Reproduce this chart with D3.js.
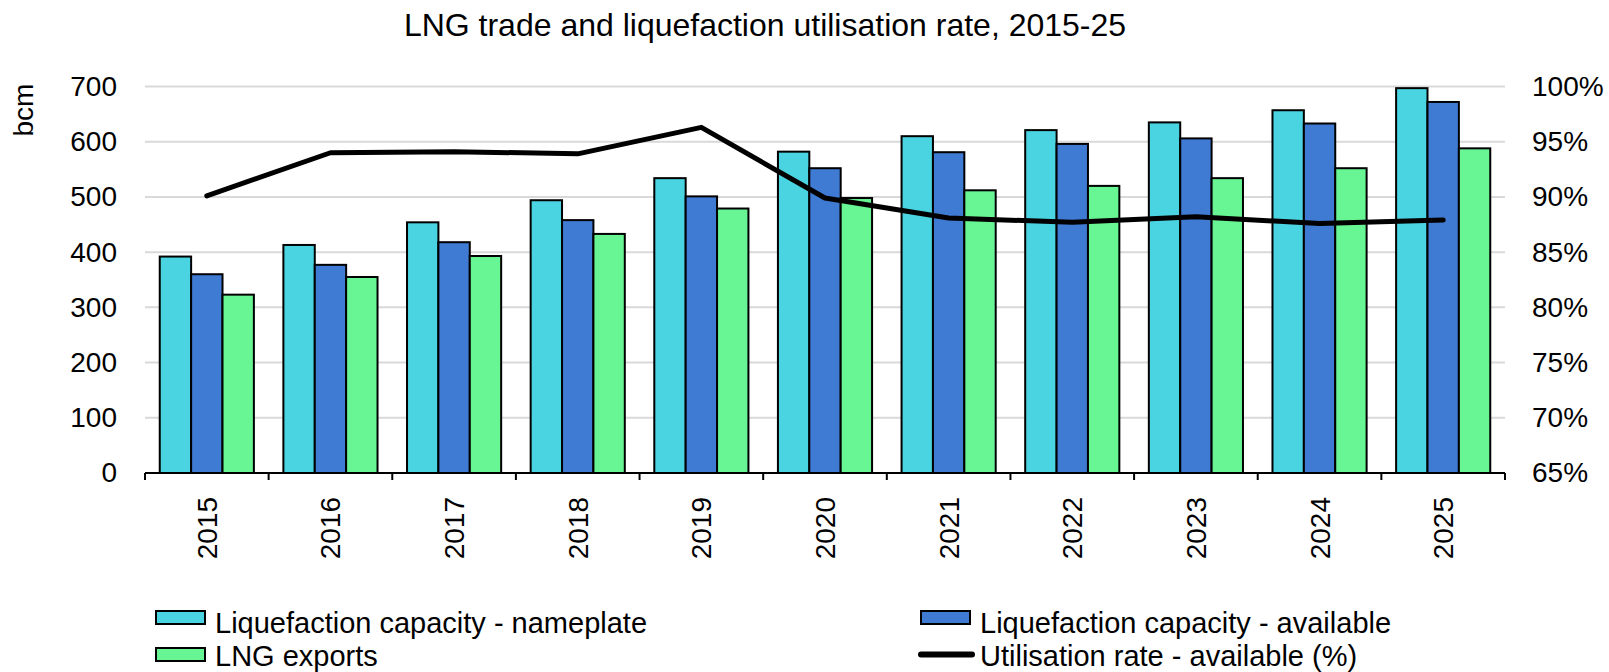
<!DOCTYPE html>
<html>
<head>
<meta charset="utf-8">
<script src="https://cdnjs.cloudflare.com/ajax/libs/d3/7.8.5/d3.min.js"></script>
<style>
  html, body { margin: 0; padding: 0; background: #fff; }
  svg { display: block; font-family: "Liberation Sans", Arial, sans-serif; }
</style>
</head>
<body>
<svg id="chart" width="1609" height="672"></svg>
<script>
const years = ["2015","2016","2017","2018","2019","2020","2021","2022","2023","2024","2025"];
const nameplate = [392, 413, 454, 494, 534, 582, 610, 621, 635, 657, 697];
const available = [360, 377, 418, 458, 501, 552, 581, 596, 606, 633, 672];
const exportsLNG = [323, 355, 393, 433, 479, 498, 512, 520, 534, 552, 588];
const utilisation = [90.1, 94.0, 94.1, 93.9, 96.3, 89.9, 88.1, 87.7, 88.2, 87.6, 87.9];
const leftTicks = [0, 100, 200, 300, 400, 500, 600, 700];
const rightTicks = [65, 70, 75, 80, 85, 90, 95, 100];
const seriesNames = ["Liquefaction capacity - nameplate", "Liquefaction capacity - available", "LNG exports"];
const lineName = "Utilisation rate - available (%)";
const colors = ["#4AD3E0", "#3F7AD3", "#68F593"];
const titleText = "LNG trade and liquefaction utilisation rate, 2015-25";
const yLabel = "bcm";

const barSeries = [nameplate, available, exportsLNG];

const svg = d3.select("#chart");
const L = 145, R = 1505, T = 86.5, B = 473;

const x0 = d3.scaleBand().domain(years).range([L, R]).paddingInner(0).paddingOuter(0);
const x1 = d3.scaleBand().domain(d3.range(3)).range([0, x0.bandwidth()]).paddingInner(0).paddingOuter(0.47);
const y = d3.scaleLinear().domain([0, 700]).range([B, T]);
const y2 = d3.scaleLinear().domain([65, 100]).range([B, T]);

// title
svg.append("text").attr("x", 765).attr("y", 36).attr("text-anchor", "middle")
  .attr("font-size", 32).attr("fill", "#000").text(titleText);

// gridlines
svg.append("g").selectAll("line").data(leftTicks.filter(d => d > 0)).join("line")
  .attr("x1", L).attr("x2", R).attr("y1", d => y(d)).attr("y2", d => y(d))
  .attr("stroke", "#d9d9d9").attr("stroke-width", 2);

// left axis labels
const gl = svg.append("g").attr("transform", `translate(${L},0)`)
  .call(d3.axisLeft(y).tickValues(leftTicks).tickSize(0).tickPadding(28));
gl.select(".domain").remove();
gl.selectAll("text").attr("font-size", 28).attr("font-family", "Liberation Sans, Arial, sans-serif").attr("fill", "#000");

// right axis labels
const gr = svg.append("g").attr("transform", `translate(${R},0)`)
  .call(d3.axisRight(y2).tickValues(rightTicks).tickSize(0).tickPadding(27).tickFormat(d => d + "%"));
gr.select(".domain").remove();
gr.selectAll("text").attr("font-size", 28).attr("font-family", "Liberation Sans, Arial, sans-serif").attr("fill", "#000");

// y label
svg.append("text").attr("transform", "translate(33,110) rotate(-90)").attr("text-anchor", "middle")
  .attr("font-size", 28).attr("fill", "#000").text(yLabel);

// bars
const groups = svg.append("g").selectAll("g").data(years).join("g")
  .attr("transform", d => `translate(${x0(d)},0)`);
groups.selectAll("rect").data((d, i) => barSeries.map((s, k) => ({k, v: s[i]}))).join("rect")
  .attr("x", d => x1(d.k)).attr("width", x1.bandwidth())
  .attr("y", d => y(d.v)).attr("height", d => y(0) - y(d.v))
  .attr("fill", d => colors[d.k]).attr("stroke", "#000").attr("stroke-width", 2);

// bottom axis
const gb = svg.append("g").attr("transform", `translate(0,${B})`);
gb.append("line").attr("x1", L).attr("x2", R).attr("y1", 0).attr("y2", 0).attr("stroke", "#000").attr("stroke-width", 2);
const bounds = years.map(d => x0(d)).concat([R]);
gb.selectAll("line.tick").data(bounds).join("line").attr("class", "tick")
  .attr("x1", d => d).attr("x2", d => d).attr("y1", 0).attr("y2", 7)
  .attr("stroke", "#000").attr("stroke-width", 2);
svg.append("g").selectAll("text").data(years).join("text")
  .attr("transform", d => `translate(${x0(d) + x0.bandwidth() / 2 + 10},497) rotate(-90)`)
  .attr("text-anchor", "end").attr("font-size", 28).attr("fill", "#000").text(d => d);

// line
const line = d3.line().x((d, i) => x0(years[i]) + x0.bandwidth() / 2).y(d => y2(d));
svg.append("path").datum(utilisation).attr("d", line).attr("fill", "none")
  .attr("stroke", "#000").attr("stroke-width", 5).attr("stroke-linecap", "round").attr("stroke-linejoin", "round");

// legend
const legend = svg.append("g").attr("font-size", 29);
const legItems = [
  {type: "box", c: colors[0], t: seriesNames[0], x: 156, yb: 611, tb: 633},
  {type: "box", c: colors[1], t: seriesNames[1], x: 921, yb: 611, tb: 633},
  {type: "box", c: colors[2], t: seriesNames[2], x: 156, yb: 648, tb: 666},
  {type: "line", c: "#000", t: lineName, x: 921, yb: 648, tb: 666}
];
legItems.forEach(it => {
  if (it.type === "box") {
    legend.append("rect").attr("x", it.x).attr("y", it.yb).attr("width", 49).attr("height", 13)
      .attr("fill", it.c).attr("stroke", "#000").attr("stroke-width", 2);
  } else {
    legend.append("line").attr("x1", it.x).attr("x2", it.x + 51).attr("y1", it.yb + 6.5).attr("y2", it.yb + 6.5)
      .attr("stroke", "#000").attr("stroke-width", 6).attr("stroke-linecap", "round");
  }
  legend.append("text").attr("x", it.x + 59).attr("y", it.tb).attr("fill", "#000").text(it.t);
});
</script>
</body>
</html>
